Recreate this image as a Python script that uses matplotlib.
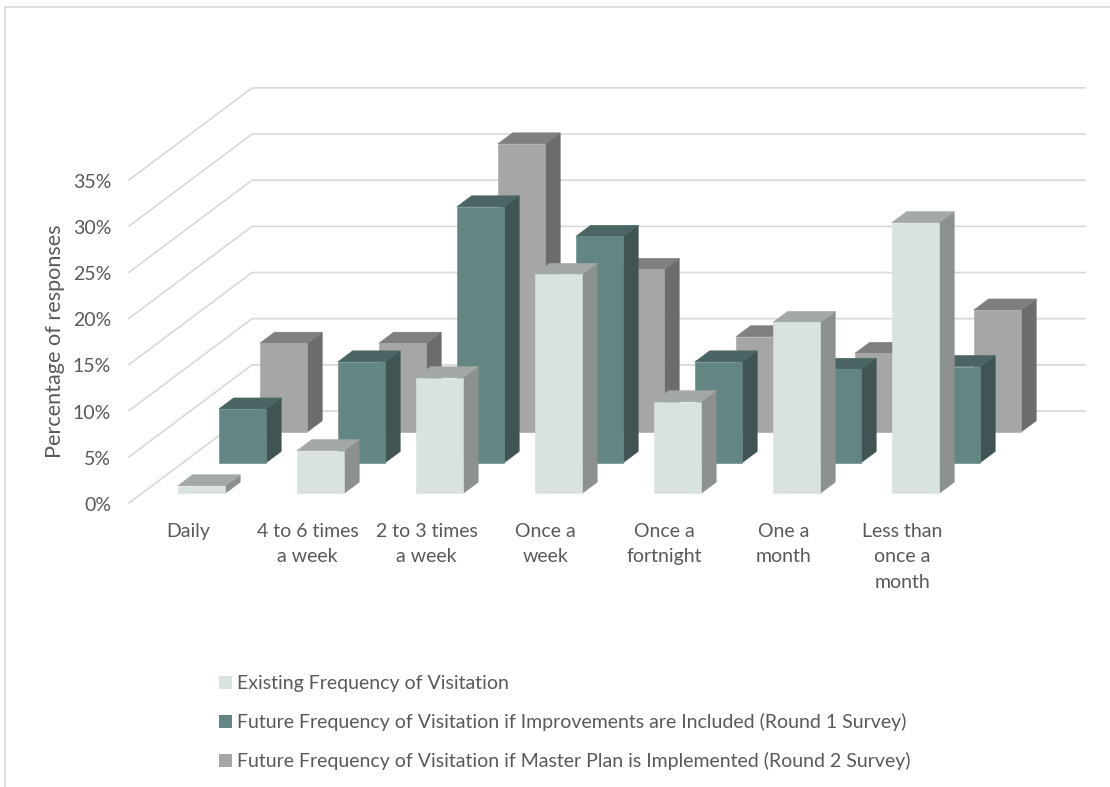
import matplotlib
matplotlib.use('Agg')
import matplotlib.pyplot as plt
from matplotlib.patches import Polygon, Patch
from matplotlib.lines import Line2D

categories = ['Daily', '4 to 6 times\na week', '2 to 3 times\na week', 'Once a\nweek',
              'Once a\nfortnight', 'One a\nmonth', 'Less than\nonce a\nmonth']
existing = [0.8, 4.6, 12.5, 23.7, 9.9, 18.5, 29.3]
round1 = [5.8, 10.9, 27.7, 24.5, 10.9, 10.1, 10.4]
round2 = [9.6, 9.6, 31.2, 17.6, 10.3, 8.5, 13.2]
series_names = ['Existing Frequency of Visitation',
                'Future Frequency of Visitation if Improvements are Included (Round 1 Survey)',
                'Future Frequency of Visitation if Master Plan is Implemented (Round 2 Survey)']
yticks = [0, 5, 10, 15, 20, 25, 30, 35]

# (front, side, top) shades for each series
shades = [('#d9e2df', '#8c908e', '#a3a9a7'),
          ('#638683', '#405553', '#4a6563'),
          ('#a6a6a6', '#6c6c6c', '#7f7f7f')]

plt.rcParams['font.family'] = ['Lato', 'DejaVu Sans']
TXT = '#595959'
GRID = '#d9d9d9'
FS = 14

# oblique 3D look: going from the front of the floor to the back wall
# shifts a point right by DEPTH_X categories and up by DEPTH_Y percent
DEPTH_X = 1.034
DEPTH_Y = 9.97
BAR_W = 0.4
BAR_D = 0.12
n_cat = len(categories)


def proj(u, d, v):
    return (u + d * DEPTH_X, v + d * DEPTH_Y)


fig = plt.figure(figsize=(11.1, 7.87), dpi=100)
ax = fig.add_axes([0, 0, 1, 1])
ax.set_xlim(-129 / 119, (1110 - 129) / 119)
ax.set_ylim(-284 / 9.23, 503 / 9.23)
ax.axis('off')

# walls: side wall runs front->back, back wall runs across
for v in yticks:
    x0, y0 = proj(0, 0, v)
    x1, y1 = proj(0, 1, v)
    x2, y2 = proj(n_cat, 1, v)
    ax.plot([x0, x1, x2], [y0, y1, y2], color=GRID, lw=1.2, zorder=1,
            solid_joinstyle='miter')
    ax.text(x0 - 0.15, v - 0.25, f'{v}%', ha='right', va='center',
            fontsize=FS, color=TXT)

ax.text(-0.62, 17.5, 'Percentage of responses', rotation=90, ha='center',
        va='center', fontsize=15.6, color=TXT)

for i, lab in enumerate(categories):
    ax.text(i + 0.5, -2.2, lab, ha='center', va='top', fontsize=FS,
            color=TXT, linespacing=1.58)

# back row first so nearer bars paint over it
rows = [existing, round1, round2]
z = 2
for r in [2, 1, 0]:
    front_c, side_c, top_c = shades[r]
    d0 = r / 3 + (1 / 3 - BAR_D) / 2
    d1 = d0 + BAR_D
    for i, v in enumerate(rows[r]):
        u0 = i + 0.5 - BAR_W / 2
        u1 = i + 0.5 + BAR_W / 2
        front = [proj(u0, d0, 0), proj(u1, d0, 0), proj(u1, d0, v), proj(u0, d0, v)]
        top = [proj(u0, d0, v), proj(u1, d0, v), proj(u1, d1, v), proj(u0, d1, v)]
        side = [proj(u1, d0, 0), proj(u1, d1, 0), proj(u1, d1, v), proj(u1, d0, v)]
        for pts, c in [(side, side_c), (top, top_c), (front, front_c)]:
            ax.add_patch(Polygon(pts, closed=True, facecolor=c, edgecolor=c,
                                 lw=0.4, zorder=z))
        z += 1

handles = [Patch(facecolor=shades[k][0], edgecolor='none') for k in range(3)]
leg = ax.legend(handles, series_names, loc='upper left',
                bbox_to_anchor=(219 / 1110, 1 - 675 / 787), frameon=False,
                fontsize=FS, handlelength=0.67, handleheight=0.67,
                handletextpad=0.27, labelspacing=1.08, borderpad=0,
                borderaxespad=0)
for t in leg.get_texts():
    t.set_color(TXT)

# thin chart-area border along the top and left
fig.add_artist(Line2D([5 / 1110, 5 / 1110], [0, 1 - 7 / 787], color=GRID, lw=1.2))
fig.add_artist(Line2D([5 / 1110, 1], [1 - 7 / 787, 1 - 7 / 787], color=GRID, lw=1.2))

fig.savefig('out.png', dpi=100, facecolor='white')
